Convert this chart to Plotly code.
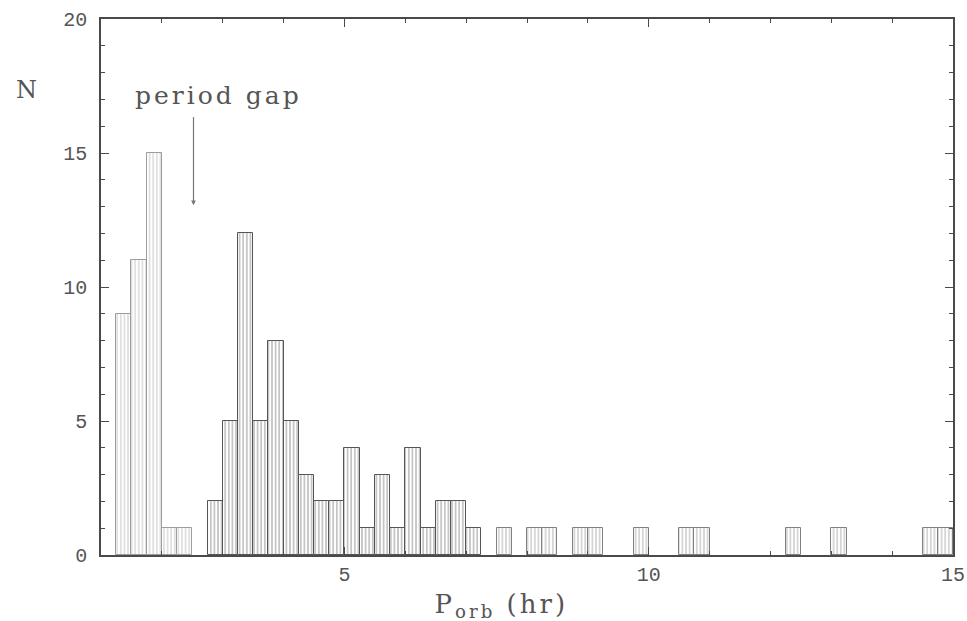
import plotly.graph_objects as go

# Orbital-period histogram, 0.25 hr bins (left edges) and counts
bin_left = [1.25, 1.5, 1.75, 2.0, 2.25, 2.75, 3.0, 3.25, 3.5, 3.75,
            4.0, 4.25, 4.5, 4.75, 5.0, 5.25, 5.5, 5.75, 6.0, 6.25,
            6.5, 6.75, 7.0, 7.5, 8.0, 8.25, 8.75, 9.0, 9.75, 10.5,
            10.75, 12.25, 13.0, 14.5, 14.75]
counts = [9, 11, 15, 1, 1, 2, 5, 12, 5, 8,
          5, 3, 2, 2, 4, 1, 3, 1, 4, 1,
          2, 2, 1, 1, 1, 1, 1, 1, 1, 1,
          1, 1, 1, 1, 1]
bin_width = 0.25

y_ticks = [0, 5, 10, 15, 20]
x_ticks = [5, 10, 15]

gap_arrow = (2.52, 16.4, 13.05)  # x, tail y, head y

centers = [b + bin_width / 2 for b in bin_left]
# below the period gap the hatching prints lighter
hatch = ["#a8a8a8" if b < 2.6 else ("#5e5e5e" if b < 7.4 else "#8a8a8a") for b in bin_left]
edge = ["#9c9c9c" if b < 2.6 else ("#555555" if b < 7.4 else "#808080") for b in bin_left]

fig = go.Figure()
fig.add_trace(go.Bar(
    x=centers, y=counts, width=bin_width,
    marker=dict(
        color="white",
        line=dict(color=edge, width=1),
        pattern=dict(shape="|", size=3.6, solidity=0.36,
                     fgcolor=hatch, bgcolor="white", fillmode="overlay"),
    ),
    hoverinfo="x+y",
))

mono = "Liberation Mono"
serif = "DejaVu Serif"
ax_col = "#4a4a4a"
txt_col = "#555555"

fig.update_layout(
    width=967, height=621,
    margin=dict(l=101, r=14, t=19, b=66),
    paper_bgcolor="white", plot_bgcolor="white",
    showlegend=False, bargap=0,
    xaxis=dict(
        range=[1, 15], tickvals=x_ticks, ticktext=[str(v) for v in x_ticks],
        ticks="inside", ticklen=8, tickcolor=ax_col, tickwidth=1,
        minor=dict(dtick=1, tick0=0, ticks="inside", ticklen=4, tickcolor=ax_col),
        showline=True, linecolor=ax_col, linewidth=1.5, mirror="allticks",
        showgrid=False, zeroline=False, automargin=False,
        tickfont=dict(family=mono, size=20, color=txt_col),
    ),
    yaxis=dict(
        range=[0, 20], tickvals=y_ticks, ticktext=[str(v) for v in y_ticks],
        ticks="inside", ticklen=8, tickcolor=ax_col, tickwidth=1,
        minor=dict(dtick=1, tick0=0, ticks="inside", ticklen=4, tickcolor=ax_col),
        showline=True, linecolor=ax_col, linewidth=1.5, mirror="allticks",
        showgrid=False, zeroline=False, automargin=False,
        tickfont=dict(family=mono, size=20, color=txt_col),
        ticklabelstandoff=8,
    ),
    annotations=[
        dict(text="N", xref="paper", yref="paper", x=-0.087, y=0.867,
             showarrow=False, xanchor="center", yanchor="middle",
             font=dict(family=serif, size=24, color=txt_col)),
        dict(text="period gap", xref="x", yref="y", x=1.78, y=17.15,
             showarrow=False, xanchor="left", yanchor="middle",
             font=dict(family=serif, size=25, color=txt_col)),
        dict(text="P<sub>orb</sub> (hr)", xref="x", yref="paper", x=7.58, y=-0.095,
             showarrow=False, xanchor="center", yanchor="middle",
             font=dict(family=serif, size=26, color=txt_col)),
        dict(x=gap_arrow[0], y=gap_arrow[2], ax=gap_arrow[0], ay=gap_arrow[1],
             xref="x", yref="y", axref="x", ayref="y", text="",
             showarrow=True, arrowhead=2, arrowsize=0.8, arrowwidth=1.2,
             arrowcolor="#777777"),
    ],
)

# widen the letter spacing of the serif labels, as in the typeset original
spacing_js = """
var gd = document.getElementById('{plot_id}');
gd.querySelectorAll('.annotation-text').forEach(function (t) {
    var s = t.textContent;
    if (s.indexOf('period') === 0) { t.style.letterSpacing = '3px'; }
    else if (s.indexOf('orb') >= 0) { t.style.letterSpacing = '3px'; }
});
"""

fig.write_html("out.html", post_script=spacing_js)
